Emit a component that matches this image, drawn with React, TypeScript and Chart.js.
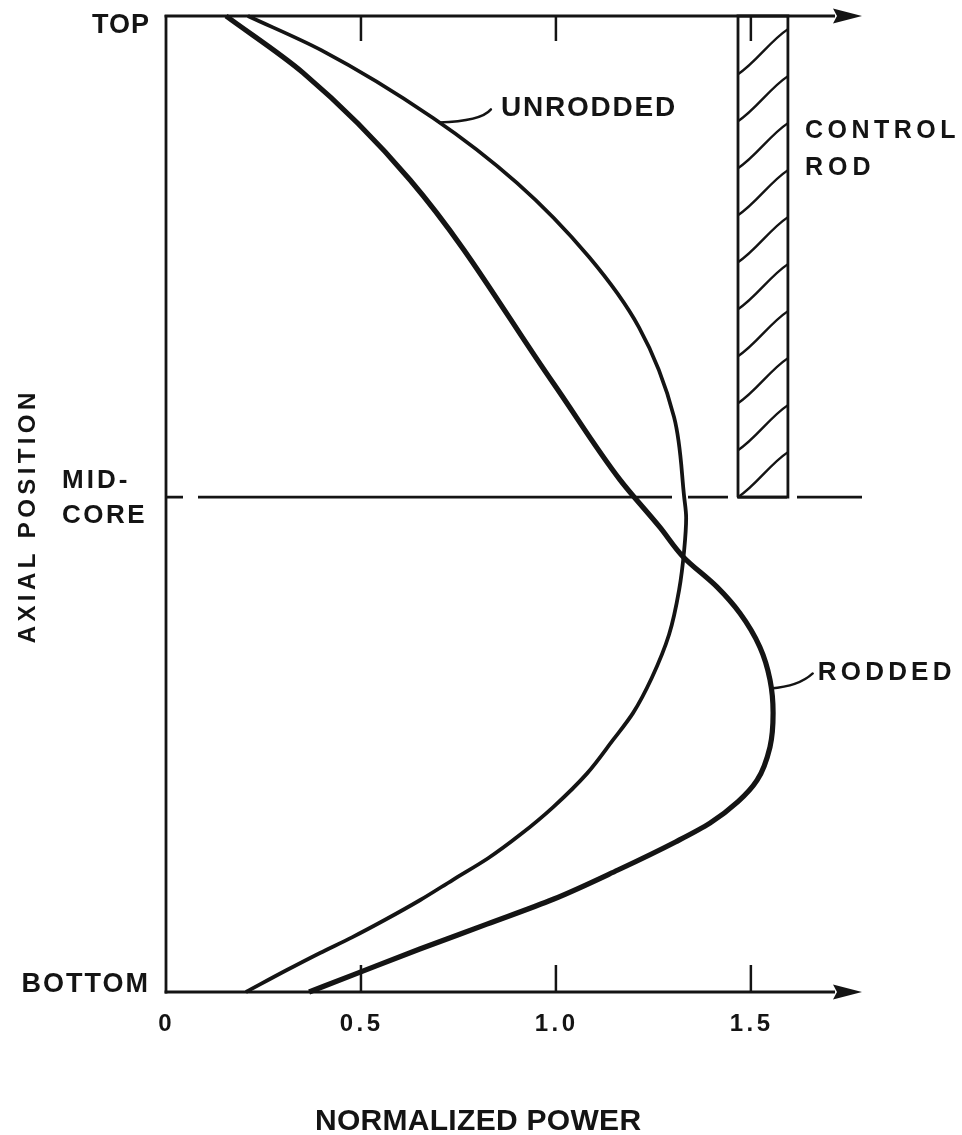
import React, { useEffect, useRef } from "react";
import { Chart, registerables } from "chart.js";

Chart.register(...registerables);

// ---- Data ----
// Axial position: 0 = BOTTOM, 100 = TOP of core
const UNRODDED_POWER = [
  0.21, 0.398, 0.685, 0.9, 1.085, 1.213, 1.303, 1.329, 1.334, 1.329, 1.316,
  1.29, 1.246, 1.198, 1.146, 1.08, 0.993, 0.908, 0.826, 0.736, 0.651, 0.562,
  0.477, 0.395, 0.31, 0.205,
];
const UNRODDED_POSITION = [
  100, 96.5, 89.55, 82.9, 75.3, 68.1, 58.9, 50.7, 48.6, 45.3, 41.2, 36.6, 32.2,
  28.6, 25.8, 22.4, 18.95, 16.1, 13.7, 11.5, 9.4, 7.4, 5.6, 4.0, 2.25, 0,
];
const RODDED_POWER = [
  0.154, 0.351, 0.626, 0.993, 1.164, 1.267, 1.326, 1.413, 1.472, 1.523, 1.549,
  1.557, 1.549, 1.516, 1.467, 1.395, 1.308, 1.159, 0.993, 0.823, 0.651, 0.48,
  0.367,
];
const RODDED_POSITION = [
  100, 94.2, 83.2, 62.4, 52.5, 47.6, 44.6, 41.5, 38.8, 35.35, 32.0, 28.6, 25.1,
  21.7, 19.5, 17.3, 15.4, 12.5, 9.5, 6.95, 4.4, 1.75, 0,
];

const X_TICK_VALUES = [0, 0.5, 1.0, 1.5];
const X_TICK_LABELS = ["0", "0.5", "1.0", "1.5"];
const X_TICK_MARKS = [0.5, 1.0, 1.5];
const POWER_MIN = 0;
const POWER_MAX = 1.785;

const CORE_BOTTOM = 0;
const CORE_TOP = 100;
const MIDCORE = 50.7;

const ROD_POWER = [1.467, 1.595];
const ROD_POSITION = [MIDCORE, CORE_TOP];

const LABEL_TOP = "TOP";
const LABEL_BOTTOM = "BOTTOM";
const LABEL_MID = ["MID-", "CORE"];
const LABEL_ROD = ["CONTROL", "ROD"];
const LABEL_UNRODDED = "UNRODDED";
const LABEL_RODDED = "RODDED";
const X_TITLE = "NORMALIZED POWER";
const Y_TITLE = "AXIAL POSITION";

// anchor points on curves where the label leaders start
const UNRODDED_LEADER_AT = { x: 0.7, y: 89.1 };
const RODDED_LEADER_AT = { x: 1.551, y: 31.1 };

const INK = "#141414";
const FONT = '"Liberation Sans", Arial, Helvetica, sans-serif';

function drawText(
  ctx: CanvasRenderingContext2D,
  text: string,
  x: number,
  y: number,
  size: number,
  ls: number,
  align: "left" | "center" | "right"
) {
  ctx.font = `bold ${size}px ${FONT}`;
  (ctx as any).letterSpacing = "0px";
  const w = ctx.measureText(text).width + ls * (text.length - 1);
  const x0 = align === "center" ? x - w / 2 : align === "right" ? x - w : x;
  (ctx as any).letterSpacing = `${ls}px`;
  ctx.textAlign = "left";
  ctx.textBaseline = "alphabetic";
  ctx.fillStyle = INK;
  ctx.fillText(text, x0, y);
  (ctx as any).letterSpacing = "0px";
}

const diagramPlugin = {
  id: "diagram",
  beforeDatasetsDraw(chart: any) {
    const { ctx, chartArea, scales } = chart;
    const xs = scales.x;
    const ys = scales.y;
    const left = chartArea.left;
    const right = chartArea.right;
    const top = ys.getPixelForValue(CORE_TOP);
    const bottom = ys.getPixelForValue(CORE_BOTTOM);
    ctx.save();
    ctx.strokeStyle = INK;
    ctx.fillStyle = INK;
    ctx.lineCap = "butt";

    // left (axial) axis
    ctx.lineWidth = 2.8;
    ctx.beginPath();
    ctx.moveTo(left, top - 1);
    ctx.lineTo(left, bottom + 1.5);
    ctx.stroke();

    // top and bottom power axes with arrowheads
    const arrowLen = 29;
    const arrowHalf = 7.5;
    [top, bottom].forEach((yy, i) => {
      ctx.lineWidth = i === 0 ? 2.8 : 3.2;
      ctx.beginPath();
      ctx.moveTo(left - 1.4, yy);
      ctx.lineTo(right - arrowLen + 2, yy);
      ctx.stroke();
      ctx.beginPath();
      ctx.moveTo(right, yy);
      ctx.lineTo(right - arrowLen, yy - arrowHalf);
      ctx.lineTo(right - arrowLen + 4, yy);
      ctx.lineTo(right - arrowLen, yy + arrowHalf);
      ctx.closePath();
      ctx.fill();
    });

    // tick marks (inward)
    ctx.lineWidth = 2.5;
    X_TICK_MARKS.forEach((v) => {
      const px = xs.getPixelForValue(v);
      ctx.beginPath();
      ctx.moveTo(px, top);
      ctx.lineTo(px, top + 25);
      ctx.stroke();
      ctx.beginPath();
      ctx.moveTo(px, bottom);
      ctx.lineTo(px, bottom - 27);
      ctx.stroke();
    });

    // control rod hatching
    const rl = xs.getPixelForValue(ROD_POWER[0]);
    const rr = xs.getPixelForValue(ROD_POWER[1]);
    const rt = ys.getPixelForValue(ROD_POSITION[1]);
    const rb = ys.getPixelForValue(ROD_POSITION[0]);
    ctx.save();
    ctx.beginPath();
    ctx.rect(rl, rt, rr - rl, rb - rt);
    ctx.clip();
    ctx.lineWidth = 2.4;
    const step = 47;
    const rise = 45;
    for (let k = 0; k * step + rise < rb - rt + 2; k++) {
      const y0 = rb - k * step;
      ctx.beginPath();
      ctx.moveTo(rl, y0);
      ctx.bezierCurveTo(
        rl + (rr - rl) * 0.35, y0 - rise * 0.25,
        rl + (rr - rl) * 0.65, y0 - rise * 0.75,
        rr, y0 - rise
      );
      ctx.stroke();
    }
    ctx.restore();
    ctx.restore();
  },
  afterDraw(chart: any) {
    const { ctx, chartArea, scales } = chart;
    const xs = scales.x;
    const ys = scales.y;
    const left = chartArea.left;
    const top = ys.getPixelForValue(CORE_TOP);
    const bottom = ys.getPixelForValue(CORE_BOTTOM);
    const mid = ys.getPixelForValue(MIDCORE);
    ctx.save();

    // axial labels
    drawText(ctx, LABEL_TOP, left - 17, top + 17, 27, 1, "right");
    drawText(ctx, LABEL_BOTTOM, left - 18, bottom, 27, 2, "right");
    drawText(ctx, LABEL_MID[0], 62, mid - 9, 26, 3, "left");
    drawText(ctx, LABEL_MID[1], 62, mid + 26, 26, 2.5, "left");

    // y title (rotated)
    ctx.save();
    ctx.translate(35, 518);
    ctx.rotate(-Math.PI / 2);
    drawText(ctx, Y_TITLE, 0, 0, 24, 4.4, "center");
    ctx.restore();

    // tick labels
    X_TICK_VALUES.forEach((v, i) => {
      drawText(ctx, X_TICK_LABELS[i], xs.getPixelForValue(v) - 1, bottom + 39, 24, 3.5, "center");
    });

    // x title
    drawText(ctx, X_TITLE, 478, 1130, 30, 0.3, "center");

    // control rod label
    const rr = xs.getPixelForValue(ROD_POWER[1]);
    drawText(ctx, LABEL_ROD[0], rr + 17, top + 122, 25, 4.5, "left");
    drawText(ctx, LABEL_ROD[1], rr + 17, top + 159, 25, 5, "left");

    // leaders
    ctx.strokeStyle = INK;
    ctx.lineWidth = 2.4;
    ctx.lineCap = "round";
    const ua = { x: xs.getPixelForValue(UNRODDED_LEADER_AT.x), y: ys.getPixelForValue(UNRODDED_LEADER_AT.y) };
    ctx.beginPath();
    ctx.moveTo(ua.x, ua.y);
    ctx.quadraticCurveTo(ua.x + 42, ua.y - 1, ua.x + 52, ua.y - 13);
    ctx.stroke();
    drawText(ctx, LABEL_UNRODDED, ua.x + 62, ua.y - 6, 28, 1.8, "left");

    const ra = { x: xs.getPixelForValue(RODDED_LEADER_AT.x), y: ys.getPixelForValue(RODDED_LEADER_AT.y) };
    ctx.beginPath();
    ctx.moveTo(ra.x, ra.y);
    ctx.quadraticCurveTo(ra.x + 28, ra.y - 2, ra.x + 42, ra.y - 15);
    ctx.stroke();
    drawText(ctx, LABEL_RODDED, ra.x + 47, ra.y - 8, 26, 4.2, "left");

    ctx.restore();
  },
};

export default function App() {
  const ref = useRef<HTMLCanvasElement | null>(null);

  useEffect(() => {
    if (!ref.current) return;
    const unrodded = UNRODDED_POWER.map((p, i) => ({ x: p, y: UNRODDED_POSITION[i] }));
    const rodded = RODDED_POWER.map((p, i) => ({ x: p, y: RODDED_POSITION[i] }));
    const rodOutline = [
      { x: ROD_POWER[0], y: ROD_POSITION[0] },
      { x: ROD_POWER[0], y: ROD_POSITION[1] },
      { x: ROD_POWER[1], y: ROD_POSITION[1] },
      { x: ROD_POWER[1], y: ROD_POSITION[0] },
      { x: ROD_POWER[0], y: ROD_POSITION[0] },
    ];
    const midLine = [
      { x: POWER_MIN, y: MIDCORE },
      { x: POWER_MAX, y: MIDCORE },
    ];

    const chart = new Chart(ref.current, {
      type: "line",
      data: {
        datasets: [
          {
            label: "Mid-core",
            data: midLine,
            borderColor: INK,
            borderWidth: 2.6,
            borderDash: [17, 15, 474, 16, 40, 9, 50, 10, 80],
            pointRadius: 0,
            tension: 0,
            fill: false,
            clip: false,
          } as any,
          {
            label: "Control rod",
            data: rodOutline,
            borderColor: INK,
            borderWidth: 2.8,
            borderJoinStyle: "miter",
            pointRadius: 0,
            tension: 0,
            fill: false,
            clip: false,
          } as any,
          {
            label: "Unrodded",
            data: unrodded,
            borderColor: INK,
            borderWidth: 3.8,
            pointRadius: 0,
            cubicInterpolationMode: "monotone",
            fill: false,
            clip: false,
          } as any,
          {
            label: "Rodded",
            data: rodded,
            borderColor: INK,
            borderWidth: 5.2,
            pointRadius: 0,
            cubicInterpolationMode: "monotone",
            fill: false,
            clip: false,
          } as any,
        ],
      },
      options: {
        indexAxis: "y",
        animation: false,
        responsive: false,
        maintainAspectRatio: false,
        devicePixelRatio: 1,
        events: [],
        layout: { padding: { left: 166, right: 100, top: 16, bottom: 143 } },
        plugins: {
          legend: { display: false },
          tooltip: { enabled: false },
          title: { display: false },
        },
        scales: {
          x: { type: "linear", min: POWER_MIN, max: POWER_MAX, display: false },
          y: { type: "linear", min: CORE_BOTTOM, max: CORE_TOP, display: false },
        },
      },
      plugins: [diagramPlugin],
    });
    return () => chart.destroy();
  }, []);

  return (
    <div style={{ position: "absolute", left: 0, top: 0, width: 962, height: 1135, background: "#fff" }}>
      <canvas ref={ref} width={962} height={1135} style={{ width: 962, height: 1135, display: "block" }} />
    </div>
  );
}
